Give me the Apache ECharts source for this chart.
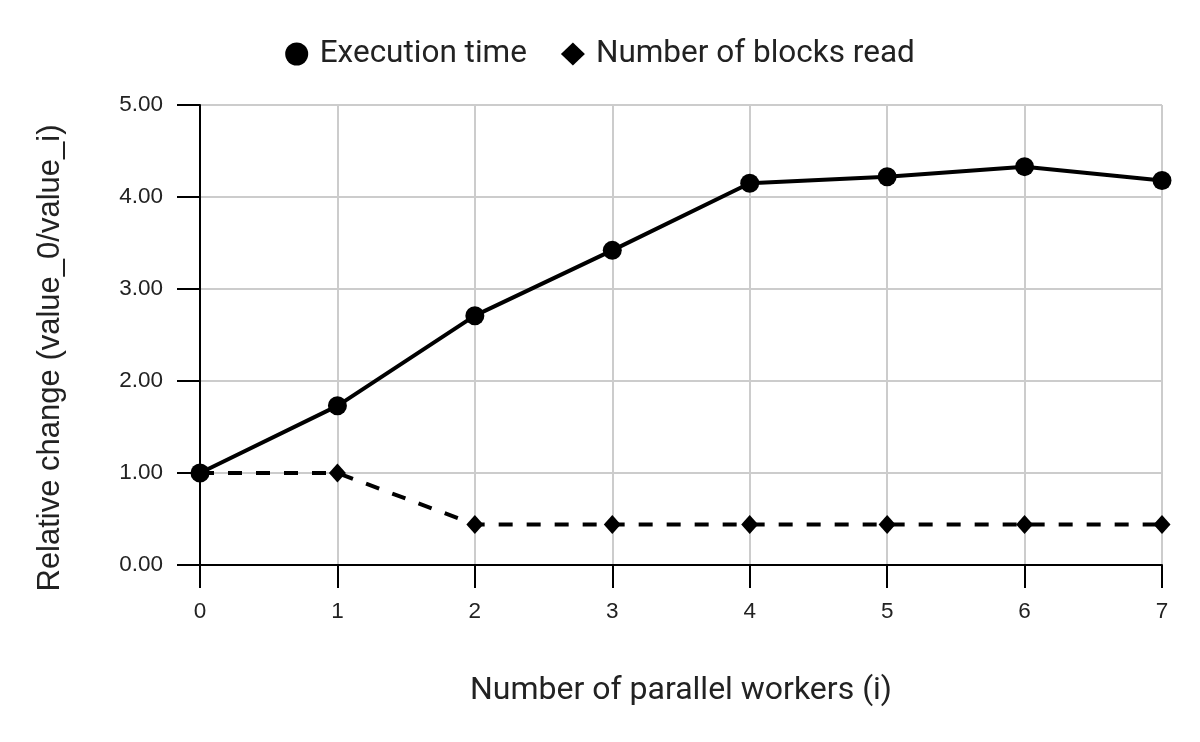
<!DOCTYPE html>
<html>
<head>
<meta charset="utf-8">
<script src="https://cdn.jsdelivr.net/npm/echarts@6/dist/echarts.min.js"></script>
<style>html,body{margin:0;padding:0;background:#fff}#c{width:1200px;height:742px}</style>
</head>
<body>
<div id="c"></div>
<script>
var workers = [0, 1, 2, 3, 4, 5, 6, 7];
var executionTime = [1.00, 1.73, 2.71, 3.42, 4.15, 4.22, 4.33, 4.18];
var blocksRead = [1.00, 1.00, 0.44, 0.44, 0.44, 0.44, 0.44, 0.44];

function pairs(vals) { return workers.map(function (w, i) { return [w, vals[i]]; }); }

var chart = echarts.init(document.getElementById('c'));
chart.setOption({
  animation: false,
  backgroundColor: '#fff',
  legend: {
    top: 33,
    left: 'center',
    itemGap: 34,
    itemWidth: 24,
    itemHeight: 23,
    textStyle: { fontFamily: 'Roboto', fontSize: 31.5, color: '#222', padding: [0, 0, 0, 6] },
    data: [
      { name: 'Execution time', icon: 'circle' },
      { name: 'Number of blocks read', icon: 'diamond' }
    ]
  },
  grid: { left: 200, right: 38, top: 105, bottom: 177, containLabel: false },
  xAxis: {
    type: 'value', min: 0, max: 7, interval: 1,
    name: 'Number of parallel workers (i)',
    nameLocation: 'middle', nameGap: 110,
    nameTextStyle: { fontFamily: 'Roboto', fontSize: 32, color: '#222' },
    axisLine: { lineStyle: { color: '#000', width: 2 } },
    axisTick: { show: true, length: 23, lineStyle: { color: '#000', width: 2 } },
    axisLabel: { margin: 35, fontFamily: 'Liberation Sans', fontSize: 22.5, color: '#222' },
    splitLine: { show: true, lineStyle: { color: '#cccccc', width: 2 } }
  },
  yAxis: {
    type: 'value', min: 0, max: 5, interval: 1,
    name: 'Relative change (value_0/value_i)',
    nameLocation: 'middle', nameGap: 134,
    nameTextStyle: { fontFamily: 'Liberation Sans', fontSize: 31, color: '#222', padding: [0, 46, 0, 0] },
    axisLine: { show: true, lineStyle: { color: '#000', width: 2 } },
    axisTick: { show: true, length: 23, lineStyle: { color: '#000', width: 2 } },
    axisLabel: { margin: 37, fontFamily: 'Liberation Sans', fontSize: 22.5, color: '#222',
      formatter: function (v) { return v.toFixed(2); } },
    splitLine: { show: true, lineStyle: { color: '#cccccc', width: 2 } }
  },
  series: [
    {
      name: 'Execution time', type: 'line', data: pairs(executionTime),
      symbol: 'circle', symbolSize: 19, clip: false,
      itemStyle: { color: '#000' },
      lineStyle: { color: '#000', width: 4 },
      z: 3
    },
    {
      name: 'Number of blocks read', type: 'line', data: pairs(blocksRead),
      symbol: 'diamond', symbolSize: [17, 19], clip: false,
      itemStyle: { color: '#000' },
      lineStyle: { color: '#000', width: 4, type: [14, 14] },
      z: 2
    }
  ]
});
</script>
</body>
</html>
